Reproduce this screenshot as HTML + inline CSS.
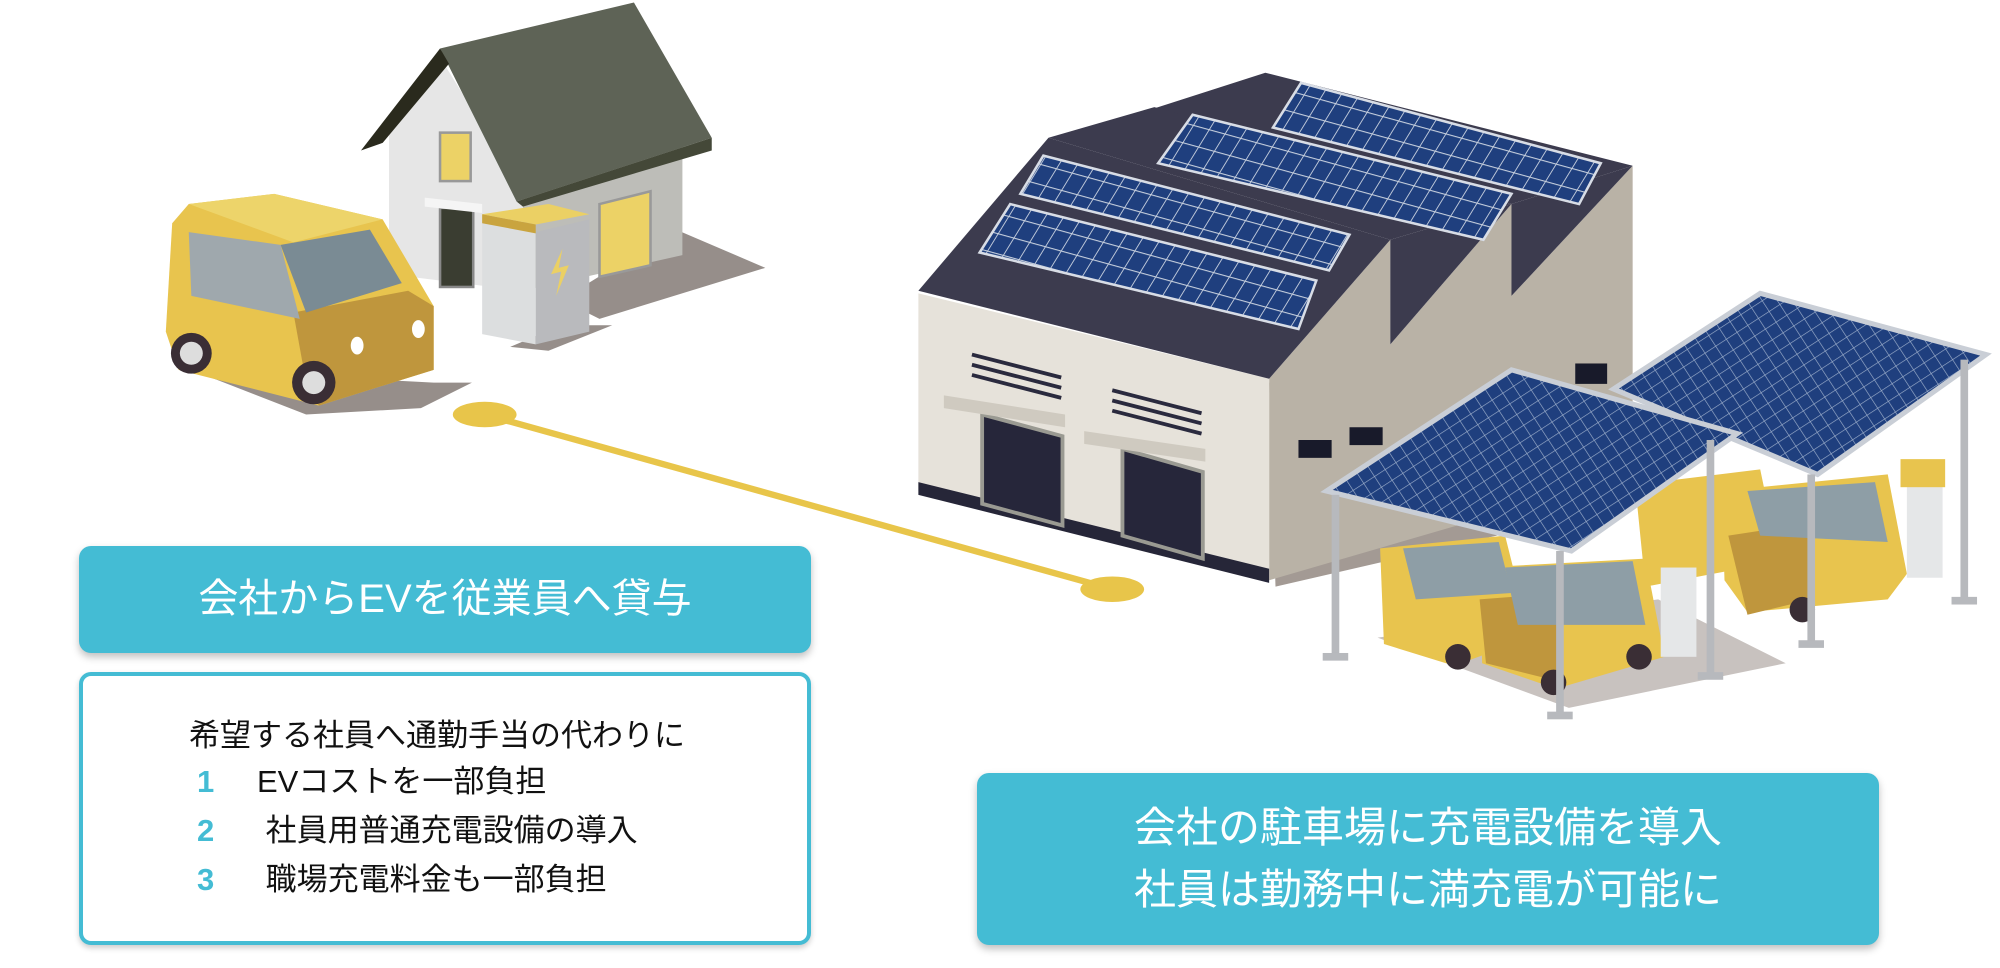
<!DOCTYPE html>
<html><head><meta charset="utf-8"><style>
html,body{margin:0;padding:0;background:#fff}
body{width:2000px;height:968px;position:relative;overflow:hidden;font-family:"Liberation Sans","Noto Sans CJK JP",sans-serif}
.tb{position:absolute;background:#44bcd4;border-radius:12px;color:#fff;box-shadow:0 4px 8px rgba(0,0,0,.25);text-align:center}
.wb{position:absolute;background:#fff;border:4px solid #44bcd4;border-radius:12px;box-sizing:border-box;box-shadow:0 3px 6px rgba(0,0,0,.2)}
.ln{position:absolute;font-size:31px;color:#111;white-space:nowrap;line-height:1}
.n{color:#44bcd4;font-weight:bold;display:inline-block;width:60px;padding-left:8px}
</style></head><body>
<svg width="2000" height="968" viewBox="0 0 1568 759" preserveAspectRatio="none" style="position:absolute;left:0;top:0">
<defs>
<pattern id="pv" width="14" height="14" patternUnits="userSpaceOnUse" patternTransform="skewX(-20) rotate(14)">
<rect width="14" height="14" fill="#1f3f7e"/><path d="M0 0H14M0 0V14" stroke="#c7d0de" stroke-width="1.6"/>
</pattern>
<pattern id="pv2" width="10" height="10" patternUnits="userSpaceOnUse" patternTransform="rotate(-33)">
<rect width="10" height="10" fill="#1f3f7e"/><path d="M0 0H10M0 0V10" stroke="#9fb0cc" stroke-width="1"/>
</pattern>
</defs>
<!-- house shadows -->
<polygon points="530,180 600,210 470,250 440,235" fill="#968e8a"/>
<polygon points="150,290 340,300 370,300 330,320 240,325" fill="#968e8a"/>
<polygon points="440,255 480,255 430,275 400,272" fill="#968e8a"/>
<!-- house -->
<polygon points="410,150 535,112 535,200 410,228" fill="#bdbdb8"/>
<polygon points="305,95 345,45 410,150 410,228 305,215" fill="#e6e6e6"/>
<polygon points="345,38 497,2 558,108 405,158" fill="#5e6356"/>
<polygon points="283,118 345,38 352,50 300,112" fill="#2a2a1d"/>
<polygon points="405,158 558,108 558,118 410,162" fill="#444838"/>
<rect x="345" y="104" width="24" height="38" fill="#ecd266" stroke="#999" stroke-width="2"/>
<rect x="345" y="163" width="26" height="62" fill="#3a3d31" stroke="#888" stroke-width="2"/>
<polygon points="333,155 378,160 378,167 333,162" fill="#f5f5f5"/>
<polygon points="470,160 510,150 510,208 470,217" fill="#ecd266" stroke="#999" stroke-width="2"/>
<!-- battery -->
<polygon points="378,175 420,182 420,270 378,262" fill="#dcdedf"/>
<polygon points="420,182 462,172 462,260 420,270" fill="#b9babd"/>
<polygon points="378,168 430,160 462,168 420,176" fill="#ebd064"/>
<polygon points="378,168 420,176 420,183 378,175" fill="#c9a43f"/>
<polygon points="441,195 432,215 440,213 436,232 446,208 438,210" fill="#ebd064"/>
<!-- car left -->
<polygon points="135,175 148,160 215,152 300,172 340,240 340,290 250,318 140,290 130,260" fill="#e8c44e"/>
<polygon points="230,245 320,228 340,240 340,290 250,318 240,300" fill="#bf963d"/>
<polygon points="148,160 215,152 300,172 230,190" fill="#edd46a"/>
<polygon points="148,182 220,192 235,250 150,232" fill="#9fa8ad"/>
<polygon points="220,192 290,180 315,222 240,245" fill="#7a8b94"/>
<circle cx="150" cy="277" r="16" fill="#3a2e35"/><circle cx="150" cy="277" r="9" fill="#ddd"/>
<circle cx="246" cy="300" r="17" fill="#3a2e35"/><circle cx="246" cy="300" r="9" fill="#ddd"/>
<ellipse cx="280" cy="271" rx="5" ry="7" fill="#fff"/><ellipse cx="328" cy="258" rx="5" ry="7" fill="#fff"/>
<!-- yellow line -->
<line x1="380" y1="325" x2="872" y2="462" stroke="#e8c54a" stroke-width="5"/>
<ellipse cx="380" cy="325" rx="25" ry="10" fill="#e8c54a"/>
<ellipse cx="872" cy="462" rx="25" ry="10" fill="#e8c54a"/>
<!-- factory -->
<polygon points="995,300 1280,378 1260,400 1000,460" fill="#a39a94"/>
<polygon points="995,297 1090,188 1090,270 1185,160 1185,232 1280,130 1280,372 995,455" fill="#b9b2a6"/>
<polygon points="1090,188 1185,160 1090,270" fill="#3c3b4e"/>
<polygon points="1185,160 1280,130 1185,232" fill="#3c3b4e"/>
<polygon points="720,230 995,297 995,455 720,385" fill="#e6e2da"/>
<polygon points="720,378 995,446 995,457 720,388" fill="#262638"/>
<polygon points="992,57 1280,130 1185,160 905,85" fill="#3c3b4e"/>
<polygon points="905,84 1185,160 1090,188 822,108" fill="#3c3b4e"/>
<polygon points="720,228 822,108 1090,188 995,297" fill="#3c3b4e"/>
<polygon points="1020,65 1255,128 1238,160 998,100" fill="url(#pv)" stroke="#d8dde6" stroke-width="2"/>
<polygon points="935,90 1185,152 1163,188 908,128" fill="url(#pv)" stroke="#d8dde6" stroke-width="2"/>
<polygon points="818,122 1058,184 1042,212 800,152" fill="url(#pv)" stroke="#d8dde6" stroke-width="2"/>
<polygon points="792,160 1032,220 1018,258 768,198" fill="url(#pv)" stroke="#d8dde6" stroke-width="2"/>
<g stroke="#2a2a3e" stroke-width="3">
<line x1="762" y1="278" x2="832" y2="296"/><line x1="762" y1="286" x2="832" y2="304"/><line x1="762" y1="294" x2="832" y2="312"/>
<line x1="872" y1="306" x2="942" y2="324"/><line x1="872" y1="314" x2="942" y2="332"/><line x1="872" y1="322" x2="942" y2="340"/>
</g>
<polygon points="770,325 833,342 833,412 770,395" fill="#26263a" stroke="#9a9a92" stroke-width="3"/>
<polygon points="880,352 943,370 943,438 880,420" fill="#26263a" stroke="#9a9a92" stroke-width="3"/>
<polygon points="740,310 835,325 835,335 740,320" fill="#cfcac0"/>
<polygon points="850,338 945,352 945,362 850,348" fill="#cfcac0"/>
<g fill="#181a2a"><rect x="1018" y="345" width="26" height="14"/><rect x="1058" y="335" width="26" height="14"/><rect x="1235" y="285" width="25" height="16"/></g>
<!-- carport shadows -->
<polygon points="1080,500 1300,470 1400,520 1230,555" fill="#c8c2bf"/>
<!-- cars right -->
<g>
<polygon points="1282,380 1380,368 1395,440 1290,460" fill="#e8c44e"/>
<polygon points="1350,385 1480,372 1495,450 1480,470 1370,480 1352,455" fill="#e8c44e"/>
<polygon points="1355,420 1420,410 1420,470 1370,482" fill="#bf963d"/>
<polygon points="1370,385 1470,378 1480,425 1380,420" fill="#8e9ea6"/>
<polygon points="1082,430 1180,420 1200,500 1140,522 1085,505" fill="#e8c44e"/>
<polygon points="1160,445 1290,438 1305,515 1220,540 1162,520" fill="#e8c44e"/>
<polygon points="1160,470 1225,465 1225,535 1165,520" fill="#bf963d"/>
<polygon points="1180,445 1280,440 1290,490 1190,490" fill="#8e9ea6"/>
<polygon points="1100,430 1175,425 1185,465 1110,470" fill="#8e9ea6"/>
<circle cx="1143" cy="515" r="10" fill="#3a2e35"/><circle cx="1218" cy="535" r="10" fill="#3a2e35"/><circle cx="1285" cy="515" r="10" fill="#3a2e35"/><circle cx="1413" cy="478" r="10" fill="#3a2e35"/>
</g>
<!-- chargers -->
<rect x="1302" y="440" width="28" height="75" fill="#e5e7e8"/><rect x="1298" y="423" width="35" height="22" fill="#e8c44e"/>
<rect x="1495" y="378" width="28" height="75" fill="#e5e7e8"/><rect x="1490" y="360" width="35" height="22" fill="#e8c44e"/>
<!-- carport panels -->
<polygon points="1265,305 1380,230 1557,278 1425,372" fill="url(#pv2)" stroke="#c9ced6" stroke-width="4"/>
<polygon points="1040,385 1185,290 1362,340 1232,432" fill="url(#pv2)" stroke="#c9ced6" stroke-width="4"/>
<g fill="#b7b9bd">
<rect x="1044" y="388" width="6" height="127"/><rect x="1037" y="512" width="20" height="6"/>
<rect x="1220" y="432" width="6" height="128"/><rect x="1213" y="558" width="20" height="6"/>
<rect x="1338" y="345" width="6" height="185"/><rect x="1331" y="527" width="20" height="6"/>
<rect x="1417" y="372" width="6" height="133"/><rect x="1410" y="502" width="20" height="6"/>
<rect x="1537" y="282" width="6" height="188"/><rect x="1530" y="468" width="20" height="6"/>
</g>
</svg>
<div class="tb" style="left:79px;top:546px;width:732px;height:107px;line-height:107px;font-size:40px">会社からEVを従業員へ貸与</div>
<div class="wb" style="left:79px;top:672px;width:732px;height:273px"></div>
<div class="ln" style="left:189px;top:720px">希望する社員へ通勤手当の代わりに</div>
<div class="ln" style="left:189px;top:766px"><span class="n">1</span>EVコストを一部負担</div>
<div class="ln" style="left:189px;top:815px"><span class="n">2</span> 社員用普通充電設備の導入</div>
<div class="ln" style="left:189px;top:864px"><span class="n">3</span> 職場充電料金も一部負担</div>
<div class="tb" style="left:977px;top:773px;width:902px;height:172px;font-size:42px;line-height:62px;padding-top:24px;box-sizing:border-box">会社の駐車場に充電設備を導入<br>社員は勤務中に満充電が可能に</div>
</body></html>
